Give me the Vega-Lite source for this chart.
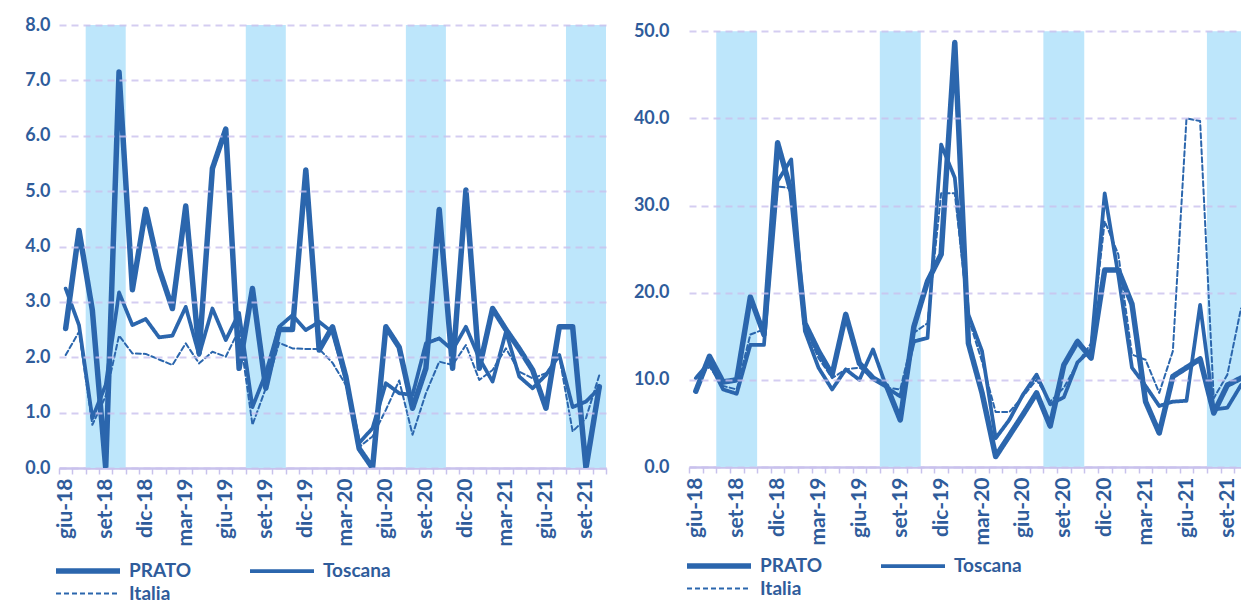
{
  "$schema": "https://vega.github.io/schema/vega-lite/v6.json",
  "background": "white",
  "padding": {"left": 0, "top": 16, "right": 0, "bottom": 0},
  "config": {
    "view": {"stroke": null},
    "font": "Lato",
    "axis": {"labelFont": "Lato", "labelFontWeight": "bold", "labelColor": "#2F5C9B", "labelFontSize": 18, "title": null},
    "legend": {"labelFont": "Lato", "labelFontWeight": "bold", "labelColor": "#2F5C9B", "labelFontSize": 19, "symbolType": "M-7,0H1", "symbolSize": 256, "symbolStrokeColor": "#2B66AD", "columns": 2, "direction": "horizontal", "columnPadding": 50, "rowPadding": 2, "padding": 0, "labelOffset": 6, "title": null}
  },
  "datasets": {
    "bands": [{"da": 1.5, "a": 4.5}, {"da": 13.5, "a": 16.5}, {"da": 25.5, "a": 28.5}, {"da": 37.5, "a": 40.5}],
    "left": [
      {"i": 0, "m": "giu-18", "PRATO": 2.52, "Toscana": 3.24, "Italia": 2.04},
      {"i": 1, "m": "lug-18", "PRATO": 4.29, "Toscana": 2.58, "Italia": 2.46},
      {"i": 2, "m": "ago-18", "PRATO": 2.85, "Toscana": 0.90, "Italia": 0.78},
      {"i": 3, "m": "set-18", "PRATO": 0.00, "Toscana": 1.50, "Italia": 1.30},
      {"i": 4, "m": "ott-18", "PRATO": 7.15, "Toscana": 3.17, "Italia": 2.39},
      {"i": 5, "m": "nov-18", "PRATO": 3.22, "Toscana": 2.58, "Italia": 2.07},
      {"i": 6, "m": "dic-18", "PRATO": 4.67, "Toscana": 2.69, "Italia": 2.06},
      {"i": 7, "m": "gen-19", "PRATO": 3.60, "Toscana": 2.36, "Italia": 1.96},
      {"i": 8, "m": "feb-19", "PRATO": 2.88, "Toscana": 2.39, "Italia": 1.86},
      {"i": 9, "m": "mar-19", "PRATO": 4.73, "Toscana": 2.91, "Italia": 2.25},
      {"i": 10, "m": "apr-19", "PRATO": 2.07, "Toscana": 2.04, "Italia": 1.89},
      {"i": 11, "m": "mag-19", "PRATO": 5.41, "Toscana": 2.88, "Italia": 2.10},
      {"i": 12, "m": "giu-19", "PRATO": 6.12, "Toscana": 2.31, "Italia": 2.01},
      {"i": 13, "m": "lug-19", "PRATO": 1.80, "Toscana": 2.80, "Italia": 2.50},
      {"i": 14, "m": "ago-19", "PRATO": 3.24, "Toscana": 1.10, "Italia": 0.78},
      {"i": 15, "m": "set-19", "PRATO": 1.44, "Toscana": 1.71, "Italia": 1.44},
      {"i": 16, "m": "ott-19", "PRATO": 2.50, "Toscana": 2.55, "Italia": 2.26},
      {"i": 17, "m": "nov-19", "PRATO": 2.50, "Toscana": 2.76, "Italia": 2.16},
      {"i": 18, "m": "dic-19", "PRATO": 5.38, "Toscana": 2.49, "Italia": 2.15},
      {"i": 19, "m": "gen-20", "PRATO": 2.13, "Toscana": 2.64, "Italia": 2.15},
      {"i": 20, "m": "feb-20", "PRATO": 2.55, "Toscana": 2.45, "Italia": 1.90},
      {"i": 21, "m": "mar-20", "PRATO": 1.65, "Toscana": 1.60, "Italia": 1.50},
      {"i": 22, "m": "apr-20", "PRATO": 0.35, "Toscana": 0.45, "Italia": 0.38},
      {"i": 23, "m": "mag-20", "PRATO": 0.00, "Toscana": 0.72, "Italia": 0.57},
      {"i": 24, "m": "giu-20", "PRATO": 2.55, "Toscana": 1.53, "Italia": 1.05},
      {"i": 25, "m": "lug-20", "PRATO": 2.18, "Toscana": 1.35, "Italia": 1.58},
      {"i": 26, "m": "ago-20", "PRATO": 1.08, "Toscana": 1.32, "Italia": 0.60},
      {"i": 27, "m": "set-20", "PRATO": 1.80, "Toscana": 2.25, "Italia": 1.35},
      {"i": 28, "m": "ott-20", "PRATO": 4.67, "Toscana": 2.34, "Italia": 1.92},
      {"i": 29, "m": "nov-20", "PRATO": 1.80, "Toscana": 2.13, "Italia": 1.86},
      {"i": 30, "m": "dic-20", "PRATO": 5.02, "Toscana": 2.55, "Italia": 2.22},
      {"i": 31, "m": "gen-21", "PRATO": 1.80, "Toscana": 1.98, "Italia": 1.59},
      {"i": 32, "m": "feb-21", "PRATO": 2.88, "Toscana": 1.56, "Italia": 1.77},
      {"i": 33, "m": "mar-21", "PRATO": 2.50, "Toscana": 2.46, "Italia": 2.16},
      {"i": 34, "m": "apr-21", "PRATO": 2.15, "Toscana": 1.65, "Italia": 1.74},
      {"i": 35, "m": "mag-21", "PRATO": 1.77, "Toscana": 1.44, "Italia": 1.62},
      {"i": 36, "m": "giu-21", "PRATO": 1.08, "Toscana": 1.68, "Italia": 1.71},
      {"i": 37, "m": "lug-21", "PRATO": 2.55, "Toscana": 2.04, "Italia": 2.01},
      {"i": 38, "m": "ago-21", "PRATO": 2.55, "Toscana": 1.10, "Italia": 0.66},
      {"i": 39, "m": "set-21", "PRATO": 0.00, "Toscana": 1.20, "Italia": 0.90},
      {"i": 40, "m": "ott-21", "PRATO": 1.47, "Toscana": 1.44, "Italia": 1.68}
    ],
    "right": [
      {"i": 0, "m": "giu-18", "PRATO": 8.7, "Toscana": 10.2, "Italia": 10.2},
      {"i": 1, "m": "lug-18", "PRATO": 12.7, "Toscana": 12.0, "Italia": 11.5},
      {"i": 2, "m": "ago-18", "PRATO": 9.75, "Toscana": 8.9, "Italia": 9.3},
      {"i": 3, "m": "set-18", "PRATO": 10.0, "Toscana": 8.4, "Italia": 8.9},
      {"i": 4, "m": "ott-18", "PRATO": 19.5, "Toscana": 14.0, "Italia": 15.2},
      {"i": 5, "m": "nov-18", "PRATO": 15.2, "Toscana": 14.0, "Italia": 15.8},
      {"i": 6, "m": "dic-18", "PRATO": 37.2, "Toscana": 32.8, "Italia": 32.2},
      {"i": 7, "m": "gen-19", "PRATO": 31.6, "Toscana": 35.3, "Italia": 32.0},
      {"i": 8, "m": "feb-19", "PRATO": 16.5, "Toscana": 15.6, "Italia": 16.1},
      {"i": 9, "m": "mar-19", "PRATO": 13.3, "Toscana": 11.4, "Italia": 12.5},
      {"i": 10, "m": "apr-19", "PRATO": 10.6, "Toscana": 8.9, "Italia": 10.2},
      {"i": 11, "m": "mag-19", "PRATO": 17.5, "Toscana": 11.2, "Italia": 11.2},
      {"i": 12, "m": "giu-19", "PRATO": 11.9, "Toscana": 10.0, "Italia": 11.4},
      {"i": 13, "m": "lug-19", "PRATO": 10.2, "Toscana": 13.5, "Italia": 10.4},
      {"i": 14, "m": "ago-19", "PRATO": 9.3, "Toscana": 9.1, "Italia": 9.1},
      {"i": 15, "m": "set-19", "PRATO": 5.4, "Toscana": 8.1, "Italia": 8.9},
      {"i": 16, "m": "ott-19", "PRATO": 16.1, "Toscana": 14.4, "Italia": 15.4},
      {"i": 17, "m": "nov-19", "PRATO": 21.3, "Toscana": 14.8, "Italia": 16.5},
      {"i": 18, "m": "dic-19", "PRATO": 24.4, "Toscana": 37.0, "Italia": 31.4},
      {"i": 19, "m": "gen-20", "PRATO": 48.7, "Toscana": 33.2, "Italia": 31.4},
      {"i": 20, "m": "feb-20", "PRATO": 14.2, "Toscana": 17.5, "Italia": 17.1},
      {"i": 21, "m": "mar-20", "PRATO": 8.5, "Toscana": 13.3, "Italia": 12.1},
      {"i": 22, "m": "apr-20", "PRATO": 1.2, "Toscana": 3.3, "Italia": 6.3},
      {"i": 23, "m": "mag-20", "PRATO": 3.6, "Toscana": 5.4, "Italia": 6.3},
      {"i": 24, "m": "giu-20", "PRATO": 6.0, "Toscana": 8.3, "Italia": 8.1},
      {"i": 25, "m": "lug-20", "PRATO": 8.5, "Toscana": 10.6, "Italia": 10.0},
      {"i": 26, "m": "ago-20", "PRATO": 4.7, "Toscana": 7.2, "Italia": 7.5},
      {"i": 27, "m": "set-20", "PRATO": 11.7, "Toscana": 8.0, "Italia": 9.1},
      {"i": 28, "m": "ott-20", "PRATO": 14.4, "Toscana": 12.0, "Italia": 11.9},
      {"i": 29, "m": "nov-20", "PRATO": 12.5, "Toscana": 13.5, "Italia": 14.2},
      {"i": 30, "m": "dic-20", "PRATO": 22.6, "Toscana": 31.4, "Italia": 28.2},
      {"i": 31, "m": "gen-21", "PRATO": 22.6, "Toscana": 22.0, "Italia": 24.4},
      {"i": 32, "m": "feb-21", "PRATO": 18.7, "Toscana": 11.4, "Italia": 12.9},
      {"i": 33, "m": "mar-21", "PRATO": 7.5, "Toscana": 9.3, "Italia": 12.3},
      {"i": 34, "m": "apr-21", "PRATO": 3.9, "Toscana": 7.0, "Italia": 8.5},
      {"i": 35, "m": "mag-21", "PRATO": 10.4, "Toscana": 7.5, "Italia": 13.3},
      {"i": 36, "m": "giu-21", "PRATO": 11.4, "Toscana": 7.6, "Italia": 40.0},
      {"i": 37, "m": "lug-21", "PRATO": 12.4, "Toscana": 18.6, "Italia": 39.7},
      {"i": 38, "m": "ago-21", "PRATO": 6.2, "Toscana": 6.6, "Italia": 7.9},
      {"i": 39, "m": "set-21", "PRATO": 9.4, "Toscana": 6.8, "Italia": 10.6},
      {"i": 40, "m": "ott-21", "PRATO": 10.2, "Toscana": 9.4, "Italia": 18.2}
    ]
  },
  "spacing": 15,
  "resolve": {
    "scale": {"x": "independent", "y": "independent", "strokeWidth": "independent", "strokeDash": "independent"},
    "legend": {"strokeWidth": "independent", "strokeDash": "independent"}
  },
  "hconcat": [
    {
      "width": 547,
      "height": 443,
      "layer": [
        {
          "data": {"name": "bands"},
          "mark": {"type": "rect", "color": "#BDE6FB", "clip": true},
          "encoding": {
            "x": {
              "field": "da", "type": "quantitative",
              "scale": {"domain": [-0.5, 40.5], "nice": false, "zero": false},
              "axis": {
                "values": [-0.5, 0, 0.5, 1, 1.5, 2, 2.5, 3, 3.5, 4, 4.5, 5, 5.5, 6, 6.5, 7, 7.5, 8, 8.5, 9, 9.5, 10, 10.5, 11, 11.5, 12, 12.5, 13, 13.5, 14, 14.5, 15, 15.5, 16, 16.5, 17, 17.5, 18, 18.5, 19, 19.5, 20, 20.5, 21, 21.5, 22, 22.5, 23, 23.5, 24, 24.5, 25, 25.5, 26, 26.5, 27, 27.5, 28, 28.5, 29, 29.5, 30, 30.5, 31, 31.5, 32, 32.5, 33, 33.5, 34, 34.5, 35, 35.5, 36, 36.5, 37, 37.5, 38, 38.5, 39, 39.5, 40, 40.5],
                "tickCount": 500,
                "labelExpr": "(datum.value % 3 == 0) ? (['gen','feb','mar','apr','mag','giu','lug','ago','set','ott','nov','dic'][(datum.value + 5) % 12] + '-' + (18 + floor((datum.value + 5) / 12))) : ''",
                "labelAngle": 270, "labelAlign": "right", "labelBaseline": "middle", "labelPadding": 4,
                "labelOverlap": false, "labelFlush": false, "labelBound": false, "labelFontSize": 21,
                "tickSize": 6, "tickWidth": 1.5, "tickColor": "#C8C2EC",
                "tickOpacity": {"condition": {"test": "datum.value % 1 == 0", "value": 0}, "value": 1},
                "domainColor": "#C8C2EC", "domainWidth": 2.5, "grid": false
              }
            },
            "x2": {"field": "a"}
          }
        },
        {
          "data": {"name": "left"},
          "transform": [{"fold": ["PRATO", "Toscana", "Italia"], "as": ["serie", "valore"]}],
          "mark": {"type": "line", "color": "#2B66AD", "strokeJoin": "round", "strokeCap": "round", "clip": true},
          "encoding": {
            "x": {"field": "i", "type": "quantitative"},
            "y": {
              "field": "valore", "type": "quantitative",
              "scale": {"domain": [0, 8], "nice": false},
              "axis": {"values": [0, 1, 2, 3, 4, 5, 6, 7, 8], "tickCount": 50, "format": ".1f", "grid": true, "gridColor": "#C9C1EE", "gridDash": [7, 5], "gridWidth": 2, "gridOpacity": 0.8, "domain": false, "ticks": false, "labelPadding": 9, "minExtent": 59, "maxExtent": 59, "zindex": 1}
            },
            "strokeWidth": {
              "field": "serie", "type": "nominal",
              "scale": {"domain": ["PRATO", "Toscana", "Italia"], "range": [5.5, 2, 2]},
              "legend": {"orient": "none", "legendX": 42, "legendY": 535, "columns": 2, "direction": "horizontal"}
            },
            "strokeDash": {
              "field": "serie", "type": "nominal",
              "scale": {"domain": ["PRATO", "Toscana", "Italia"], "range": [[1, 0], [1, 0], [5, 3]]},
              "legend": {"orient": "none", "legendX": 42, "legendY": 535, "columns": 2, "direction": "horizontal"}
            }
          }
        }
      ]
    },
    {
      "width": 552,
      "height": 442,
      "layer": [
        {
          "data": {"name": "bands"},
          "mark": {"type": "rect", "color": "#BDE6FB", "clip": true},
          "encoding": {
            "x": {
              "field": "da", "type": "quantitative",
              "scale": {"domain": [-0.5, 40], "nice": false, "zero": false},
              "axis": {
                "values": [-0.5, 0, 0.5, 1, 1.5, 2, 2.5, 3, 3.5, 4, 4.5, 5, 5.5, 6, 6.5, 7, 7.5, 8, 8.5, 9, 9.5, 10, 10.5, 11, 11.5, 12, 12.5, 13, 13.5, 14, 14.5, 15, 15.5, 16, 16.5, 17, 17.5, 18, 18.5, 19, 19.5, 20, 20.5, 21, 21.5, 22, 22.5, 23, 23.5, 24, 24.5, 25, 25.5, 26, 26.5, 27, 27.5, 28, 28.5, 29, 29.5, 30, 30.5, 31, 31.5, 32, 32.5, 33, 33.5, 34, 34.5, 35, 35.5, 36, 36.5, 37, 37.5, 38, 38.5, 39, 39.5],
                "tickCount": 500,
                "labelExpr": "(datum.value % 3 == 0) ? (['gen','feb','mar','apr','mag','giu','lug','ago','set','ott','nov','dic'][(datum.value + 5) % 12] + '-' + (18 + floor((datum.value + 5) / 12))) : ''",
                "labelAngle": 270, "labelAlign": "right", "labelBaseline": "middle", "labelPadding": 4,
                "labelOverlap": false, "labelFlush": false, "labelBound": false, "labelFontSize": 21,
                "tickSize": 6, "tickWidth": 1.5, "tickColor": "#C8C2EC",
                "tickOpacity": {"condition": {"test": "datum.value % 1 == 0", "value": 0}, "value": 1},
                "domainColor": "#C8C2EC", "domainWidth": 2.5, "grid": false
              }
            },
            "x2": {"field": "a"},
            "y": {"datum": 0, "type": "quantitative"},
            "y2": {"datum": 50}
          }
        },
        {
          "data": {"name": "right"},
          "transform": [{"fold": ["PRATO", "Toscana", "Italia"], "as": ["serie", "valore"]}],
          "mark": {"type": "line", "color": "#2B66AD", "strokeJoin": "round", "strokeCap": "round", "clip": true},
          "encoding": {
            "x": {"field": "i", "type": "quantitative"},
            "y": {
              "field": "valore", "type": "quantitative",
              "scale": {"domain": [0, 50.72], "nice": false},
              "axis": {"values": [0, 10, 20, 30, 40, 50], "tickCount": 50, "format": ".1f", "grid": true, "gridColor": "#C9C1EE", "gridDash": [7, 5], "gridWidth": 2, "gridOpacity": 0.8, "domain": false, "ticks": false, "labelPadding": 20, "minExtent": 58, "maxExtent": 58, "zindex": 1}
            },
            "strokeWidth": {
              "field": "serie", "type": "nominal",
              "scale": {"domain": ["PRATO", "Toscana", "Italia"], "range": [5.5, 2, 2]},
              "legend": {"orient": "none", "legendX": 43, "legendY": 530, "columns": 2, "direction": "horizontal"}
            },
            "strokeDash": {
              "field": "serie", "type": "nominal",
              "scale": {"domain": ["PRATO", "Toscana", "Italia"], "range": [[1, 0], [1, 0], [5, 3]]},
              "legend": {"orient": "none", "legendX": 43, "legendY": 530, "columns": 2, "direction": "horizontal"}
            }
          }
        }
      ]
    }
  ]
}
